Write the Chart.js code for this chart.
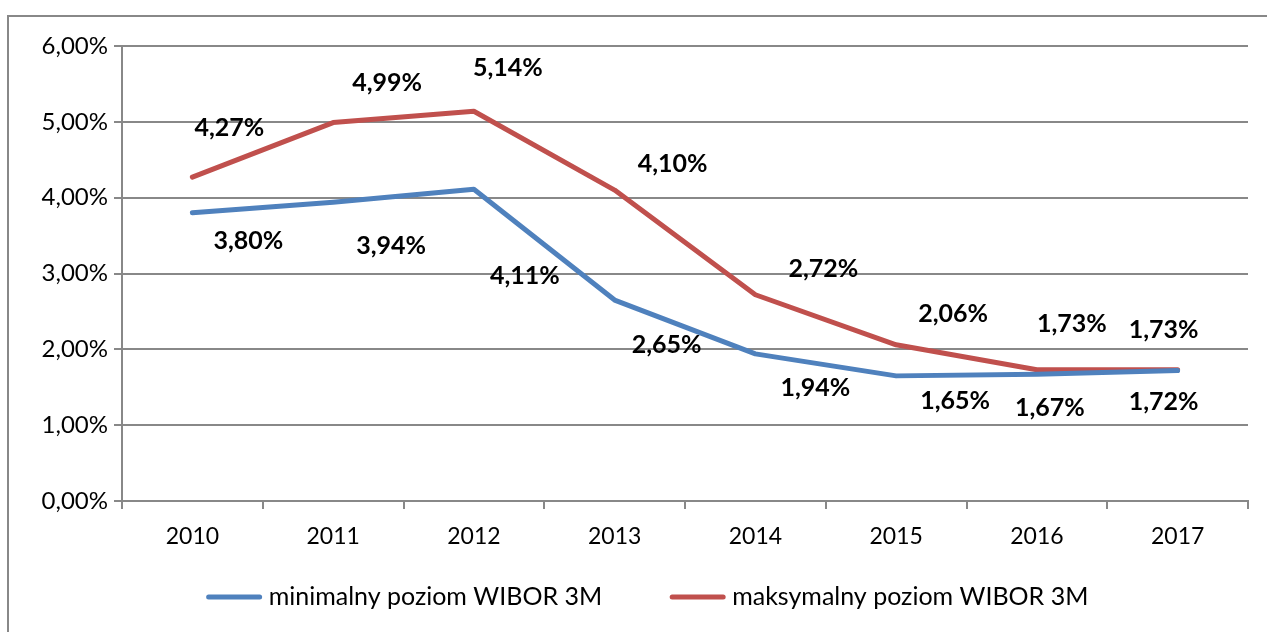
<!DOCTYPE html>
<html>
<head>
<meta charset="utf-8">
<script src="https://cdn.jsdelivr.net/npm/chart.js@4/dist/chart.umd.min.js"></script>
<style>
  html, body { margin: 0; padding: 0; background: #fff; }
  #wrap { width: 1267px; height: 632px; position: relative; }
</style>
</head>
<body>
<div id="wrap"><canvas id="myChart" width="1267" height="632"></canvas></div>
<script>
// data
const years = ['2010', '2011', '2012', '2013', '2014', '2015', '2016', '2017'];
const minWibor = [3.80, 3.94, 4.11, 2.65, 1.94, 1.65, 1.67, 1.72];
const maxWibor = [4.27, 4.99, 5.14, 4.10, 2.72, 2.06, 1.73, 1.73];
const yTicks = [0, 1, 2, 3, 4, 5, 6];

// where each value label sits relative to its point (px)
const minLabelOffsets = [[56, 28], [58, 44], [51, 87], [52, 45], [60, 34], [59, 25], [13, 34], [-14, 31]];
const maxLabelOffsets = [[37, -49], [54, -40], [34, -43], [58, -26], [68, -26], [57, -31], [35, -46], [-14, -40]];

const FONT = 'Lato, "Noto Sans", sans-serif';
const GRID = '#888888';

function pct(v) {
    return v.toFixed(2).replace('.', ',') + '%';
}

const frame = {
    id: 'frame',
    beforeDraw(chart) {
        const ctx = chart.ctx;
        ctx.save();
        ctx.strokeStyle = GRID;
        ctx.lineWidth = 2;
        ctx.strokeRect(8, 16, 1300, 700);
        ctx.restore();
    }
};

const valueLabels = {
    id: 'valueLabels',
    afterDatasetsDraw(chart) {
        const ctx = chart.ctx;
        const offsets = [minLabelOffsets, maxLabelOffsets];
        ctx.save();
        ctx.font = 'bold 25px ' + FONT;
        ctx.fillStyle = '#000';
        ctx.textAlign = 'center';
        ctx.textBaseline = 'middle';
        chart.data.datasets.forEach(function (ds, i) {
            const meta = chart.getDatasetMeta(i);
            meta.data.forEach(function (pt, j) {
                const off = offsets[i][j];
                ctx.fillText(pct(ds.data[j]), pt.x + off[0], pt.y + off[1]);
            });
        });
        ctx.restore();
    }
};

// legend drawn by hand so the swatch/text spacing matches
const bottomLegend = {
    id: 'bottomLegend',
    afterDraw(chart) {
        const ctx = chart.ctx;
        const ds = chart.data.datasets;
        ctx.save();
        ctx.font = '25px ' + FONT;
        ctx.textBaseline = 'middle';
        const sw = 55, gap = 7, between = 68;
        let total = 0;
        ds.forEach(function (d, i) {
            total += sw + gap + ctx.measureText(d.label).width + (i ? between : 0);
        });
        let x = chart.width / 2 + 14 - total / 2;
        const y = 597;
        ds.forEach(function (d, i) {
            if (i) x += between;
            ctx.strokeStyle = d.borderColor;
            ctx.lineWidth = 5;
            ctx.lineCap = 'round';
            ctx.beginPath();
            ctx.moveTo(x + 2, y);
            ctx.lineTo(x + sw - 2, y);
            ctx.stroke();
            x += sw + gap;
            ctx.fillStyle = '#000';
            ctx.fillText(d.label, x, y);
            x += ctx.measureText(d.label).width;
        });
        ctx.restore();
    }
};

const ctx = document.getElementById('myChart').getContext('2d');
const myChart = new Chart(ctx, {
    type: 'line',
    data: {
        labels: years,
        datasets: [{
            label: 'minimalny poziom WIBOR 3M',
            data: minWibor,
            borderColor: '#4F81BD',
            backgroundColor: '#4F81BD',
            borderWidth: 5,
            borderCapStyle: 'round',
            borderJoinStyle: 'round',
            pointRadius: 0,
            tension: 0
        },
        {
            label: 'maksymalny poziom WIBOR 3M',
            data: maxWibor,
            borderColor: '#C0504D',
            backgroundColor: '#C0504D',
            borderWidth: 5,
            borderCapStyle: 'round',
            borderJoinStyle: 'round',
            pointRadius: 0,
            tension: 0
        }]
    },
    options: {
        responsive: false,
        animation: false,
        layout: { padding: { left: 0, right: 19, top: 46, bottom: 61 } },
        plugins: {
            tooltip: { enabled: false },
            legend: { display: false }
        },
        scales: {
            x: {
                offset: true,
                grid: {
                    offset: true,
                    drawOnChartArea: false,
                    color: GRID,
                    lineWidth: 2,
                    tickLength: 8
                },
                border: { color: GRID, width: 2 },
                ticks: {
                    color: '#000',
                    font: { family: FONT, size: 23 },
                    padding: 14,
                    maxRotation: 0
                },
                afterFit(scale) { scale.height = 70; }
            },
            y: {
                min: yTicks[0],
                max: yTicks[yTicks.length - 1],
                afterBuildTicks(scale) {
                    scale.ticks = yTicks.map(function (v) { return { value: v }; });
                },
                grid: { color: GRID, lineWidth: 2, tickLength: 8 },
                border: { color: GRID, width: 2 },
                ticks: {
                    color: '#000',
                    font: { family: FONT, size: 24 },
                    padding: 6,
                    callback: function (v) { return pct(v); }
                },
                afterFit(scale) { scale.width = 122; }
            }
        }
    },
    plugins: [frame, valueLabels, bottomLegend]
});
</script>
</body>
</html>
